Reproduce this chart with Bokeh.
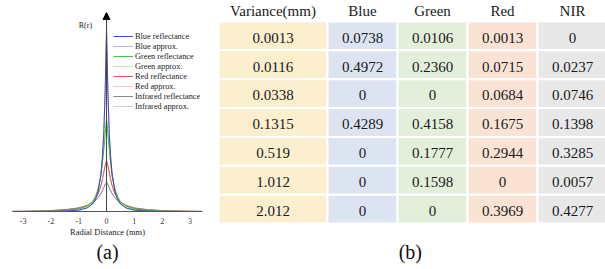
from bokeh.plotting import figure
from bokeh.models import (Range1d, FixedTicker, Arrow, NormalHead, Label, Legend,
                          LegendItem, Title, ColumnDataSource)
from bokeh.layouts import row, column
from bokeh.embed import file_html
from bokeh.resources import INLINE
from bokeh.core.properties import value

# ---------------- data: panel (a) ----------------
radial = [-3.4, -3.0, -2.5, -2.0, -1.5, -1.0, -0.7, -0.5, -0.4, -0.3, -0.2, -0.15, -0.1, -0.05, 0,
          0.05, 0.1, 0.15, 0.2, 0.3, 0.4, 0.5, 0.7, 1.0, 1.5, 2.0, 2.5, 3.0, 3.4]
blue_refl = [0, 0, 0, 0.005, 0.02, 0.07, 0.18, 0.38, 0.6, 1.0, 1.9, 2.7, 3.9, 6.0, 9.2,
             6.0, 3.9, 2.7, 1.9, 1.0, 0.6, 0.38, 0.18, 0.07, 0.02, 0.005, 0, 0, 0]
blue_appr = [0, 0, 0, 0.004, 0.015, 0.06, 0.17, 0.38, 0.6, 1.0, 1.9, 2.7, 3.9, 5.9, 9.0,
             5.9, 3.9, 2.7, 1.9, 1.0, 0.6, 0.38, 0.17, 0.06, 0.015, 0.004, 0, 0, 0]
green_refl = [0, 0, 0.01, 0.02, 0.05, 0.13, 0.27, 0.5, 0.75, 1.15, 1.8, 2.4, 3.1, 3.9, 4.6,
              3.9, 3.1, 2.4, 1.8, 1.15, 0.75, 0.5, 0.27, 0.13, 0.05, 0.02, 0.01, 0, 0]
green_appr = [0, 0, 0.008, 0.018, 0.045, 0.12, 0.26, 0.48, 0.73, 1.12, 1.8, 2.4, 3.1, 3.95, 4.75,
              3.95, 3.1, 2.4, 1.8, 1.12, 0.73, 0.48, 0.26, 0.12, 0.045, 0.018, 0.008, 0, 0]
red_refl = [0.005, 0.01, 0.02, 0.04, 0.08, 0.17, 0.3, 0.48, 0.65, 0.9, 1.3, 1.6, 1.95, 2.3, 2.55,
            2.3, 1.95, 1.6, 1.3, 0.9, 0.65, 0.48, 0.3, 0.17, 0.08, 0.04, 0.02, 0.01, 0.005]
red_appr = [0.004, 0.008, 0.018, 0.035, 0.075, 0.16, 0.29, 0.47, 0.64, 0.9, 1.3, 1.6, 1.93, 2.3, 2.6,
            2.3, 1.93, 1.6, 1.3, 0.9, 0.64, 0.47, 0.29, 0.16, 0.075, 0.035, 0.018, 0.008, 0.004]
nir_refl = [0.006, 0.012, 0.025, 0.05, 0.09, 0.18, 0.3, 0.44, 0.55, 0.7, 0.9, 1.05, 1.2, 1.35, 1.45,
            1.35, 1.2, 1.05, 0.9, 0.7, 0.55, 0.44, 0.3, 0.18, 0.09, 0.05, 0.025, 0.012, 0.006]
nir_appr = [0.005, 0.01, 0.022, 0.045, 0.085, 0.17, 0.29, 0.43, 0.54, 0.69, 0.9, 1.04, 1.2, 1.36, 1.5,
            1.36, 1.2, 1.04, 0.9, 0.69, 0.54, 0.43, 0.29, 0.17, 0.085, 0.045, 0.022, 0.01, 0.005]
x_ticks = [-3, -2, -1, 0, 1, 2, 3]
x_tick_labels = ["-3", "-2", "-1", "0", "1", "2", "3"]

# ---------------- data: panel (b) ----------------
headers = ["Variance(mm)", "Blue", "Green", "Red", "NIR"]
variance = ["0.0013", "0.0116", "0.0338", "0.1315", "0.519", "1.012", "2.012"]
blue_w = ["0.0738", "0.4972", "0", "0.4289", "0", "0", "0"]
green_w = ["0.0106", "0.2360", "0", "0.4158", "0.1777", "0.1598", "0"]
red_w = ["0.0013", "0.0715", "0.0684", "0.1675", "0.2944", "0", "0.3969"]
nir_w = ["0", "0.0237", "0.0746", "0.1398", "0.3285", "0.0057", "0.4277"]

SERIF = "Liberation Serif"

# ================= panel (a) =================
p1 = figure(width=213, height=269, x_range=Range1d(-3.38, 3.45), y_range=Range1d(0, 10),
            output_backend="svg", toolbar_location=None, y_axis_location=None,
            min_border_left=12, min_border_right=11, min_border_top=12, min_border_bottom=58)
p1.grid.visible = False
p1.outline_line_color = None
p1.background_fill_color = "white"
ax = p1.xaxis[0]
ax.ticker = FixedTicker(ticks=x_ticks)
ax.major_label_overrides = {t: s for t, s in zip(x_ticks, x_tick_labels)}
ax.minor_tick_line_color = None
ax.major_tick_in = 0
ax.major_tick_out = 0
ax.axis_line_color = "#555555"
ax.major_label_text_font = SERIF
ax.major_label_text_font_size = "8px"
ax.major_label_text_color = "#333333"
ax.major_label_standoff = 6
ax.axis_label = "Radial Distance (mm)"
ax.axis_label_text_font = SERIF
ax.axis_label_text_font_size = "8.5px"
ax.axis_label_text_font_style = "normal"
ax.axis_label_text_color = "#222222"
ax.axis_label_standoff = 0

styles = [
    ("Infrared approx.", nir_appr, "#a0a0a0", "1 1"),
    ("Infrared reflectance", nir_refl, "#8a8a8a", "solid"),
    ("Red approx.", red_appr, "#e58a8a", "1 1"),
    ("Red reflectance", red_refl, "#d95c5c", "solid"),
    ("Green approx.", green_appr, "#70d870", "1 1"),
    ("Green reflectance", green_refl, "#3cc43c", "solid"),
    ("Blue approx.", blue_appr, "#7070d0", "1 1"),
    ("Blue reflectance", blue_refl, "#4848b4", "solid"),
]
rends = {}
for name, ys, col, dash in styles:
    rends[name] = p1.line(radial, ys, line_color=col, line_width=1, line_dash=dash)

p1.add_layout(Arrow(end=NormalHead(size=7, fill_color="black", line_color="black"),
                    x_start=0, y_start=0, x_end=0, y_end=10,
                    line_color="#444444", line_width=1))
p1.add_layout(Label(x=-0.76, y=9.35, text="R(r)", text_font=SERIF, text_font_size="8px",
                    text_align="center", text_baseline="middle", text_color="#222222"))

order = ["Blue reflectance", "Blue approx.", "Green reflectance", "Green approx.",
         "Red reflectance", "Red approx.", "Infrared reflectance", "Infrared approx."]
legend = Legend(items=[LegendItem(label=n, renderers=[rends[n]]) for n in order],
                location=(99, 98), label_text_font=SERIF, label_text_font_size="8.3px",
                label_height=10, glyph_height=10, glyph_width=20, spacing=0, padding=2,
                margin=0, label_standoff=2, border_line_alpha=0, background_fill_alpha=0,
                label_text_color="#222222")
p1.add_layout(legend)
p1.add_layout(Title(text="(a)", align="center", vertical_align="top", text_font=SERIF,
                    text_font_size="20px", text_font_style="normal", text_color="#111111",
                    standoff=2), "below")

# ================= panel (b) =================
col_widths = [109 / 70, 1, 1, 1, 1]
edges = [0]
for w in col_widths:
    edges.append(edges[-1] + w)
col_colors = ["#fcefcf", "#dce4f2", "#e3efdb", "#fae3d5", "#e8e8e8"]
columns = [variance, blue_w, green_w, red_w, nir_w]

p2 = figure(width=392, height=269, x_range=Range1d(-5 / 70, 387 / 70), y_range=Range1d(8.593, -0.728),
            output_backend="svg", toolbar_location=None,
            min_border_left=0, min_border_right=0, min_border_top=0, min_border_bottom=0)
p2.axis.visible = False
p2.grid.visible = False
p2.outline_line_color = None

qd = dict(left=[], right=[], top=[], bottom=[], color=[])
td = dict(x=[], y=[], text=[])
for c, vals in enumerate(columns):
    for r, v in enumerate(vals):
        qd["left"].append(edges[c]); qd["right"].append(edges[c + 1])
        qd["top"].append(r); qd["bottom"].append(r + 1)
        qd["color"].append(col_colors[c])
        td["x"].append((edges[c] + edges[c + 1]) / 2); td["y"].append(r + 0.56); td["text"].append(v)
p2.quad(left="left", right="right", top="top", bottom="bottom", fill_color="color",
        line_color="white", line_width=2, source=ColumnDataSource(qd))
p2.text(x="x", y="y", text="text", source=ColumnDataSource(td), text_font=value(SERIF),
        text_font_size="15px", text_align="center", text_baseline="middle", text_color="#1a1a1a")
hd = dict(x=[(edges[c] + edges[c + 1]) / 2 for c in range(5)], y=[-0.35] * 5, text=headers)
p2.text(x="x", y="y", text="text", source=ColumnDataSource(hd), text_font=value(SERIF),
        text_font_size="15px", text_align="center", text_baseline="middle", text_color="#1a1a1a")
p2.text(x=[2.74], y=[8.0], text=["(b)"], text_font=value(SERIF), text_font_size="20px",
        text_align="center", text_baseline="middle", text_color="#111111")

layout = row(p1, column(p2))
open("out.html", "w").write(file_html(layout, INLINE))
